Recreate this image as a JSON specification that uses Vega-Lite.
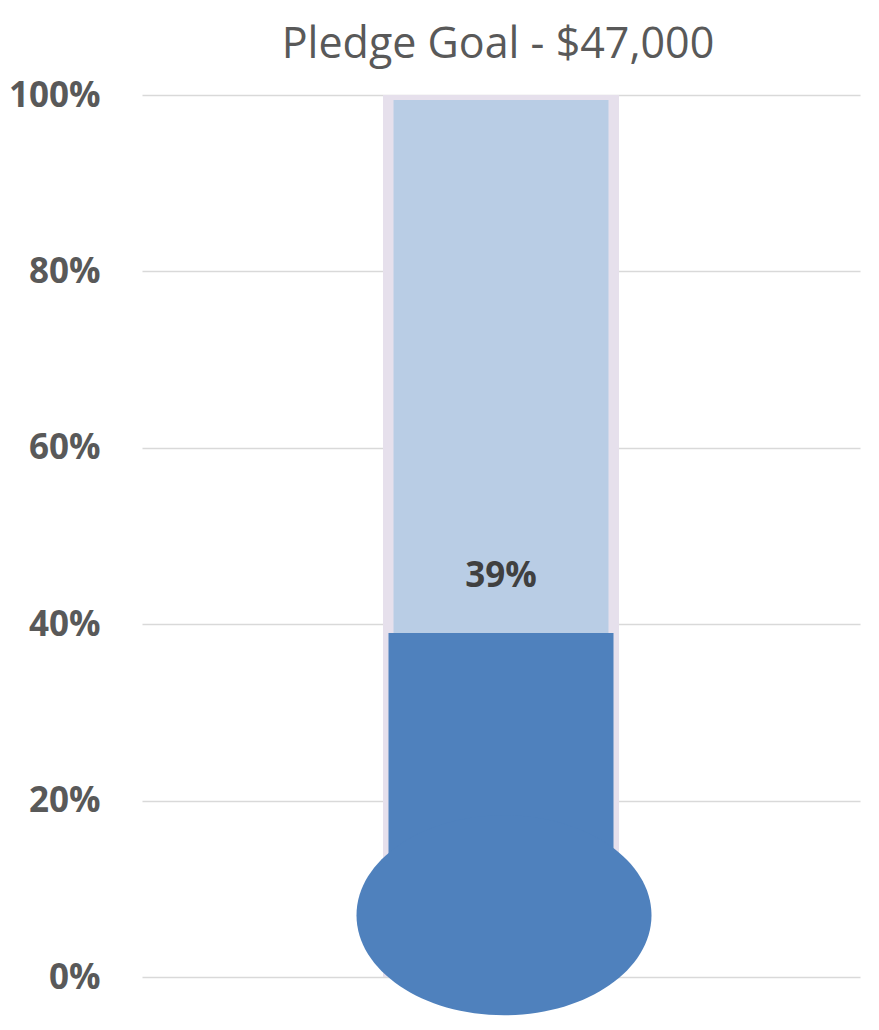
{
  "$schema": "https://vega.github.io/schema/vega-lite/v6.json",
  "autosize": {"type": "none"},
  "width": 718,
  "height": 882,
  "padding": {"left": 142, "top": 95, "right": 19, "bottom": 53},
  "title": {
    "text": "Pledge Goal - $47,000",
    "font": "Open Sans",
    "fontSize": 43,
    "fontWeight": "normal",
    "color": "#595959",
    "anchor": "middle",
    "offset": 11,
    "dx": -3
  },
  "data": {"values": [{"category": "Pledge", "goal": 100, "pledged": 39, "pledged_label": "39%", "bulb": 7, "base": 0}]},
  "encoding": {
    "x": {"field": "category", "type": "nominal", "axis": null, "scale": {"paddingInner": 0, "paddingOuter": 0}}
  },
  "layer": [
    {
      "mark": {"type": "bar", "width": 236, "color": "#E6E0EC"},
      "encoding": {
        "y": {"field": "goal", "type": "quantitative", "scale": {"domain": [0, 100]},
          "axis": {"values": [0, 20, 40, 60, 80, 100], "labelExpr": "datum.value + '%'", "title": null,
            "domain": false, "ticks": false, "labelPadding": 42, "labelFont": "Open Sans", "labelFontSize": 35,
            "labelFontWeight": "bold", "labelColor": "#595959", "grid": true, "gridColor": "#D9D9D9", "gridWidth": 1.5}},
        "y2": {"field": "base"}
      }
    },
    {
      "mark": {"type": "bar", "width": 215, "color": "#B9CDE5", "yOffset": 5},
      "encoding": {
        "y": {"field": "goal", "type": "quantitative"},
        "y2": {"field": "base"}
      }
    },
    {
      "mark": {"type": "bar", "width": 225, "color": "#4F81BD"},
      "encoding": {
        "y": {"field": "pledged", "type": "quantitative"},
        "y2": {"field": "base"}
      }
    },
    {
      "mark": {"type": "point", "filled": true, "color": "#4F81BD", "opacity": 1, "size": 87025, "xOffset": 3,
        "shape": "M-1,0C-1,-0.3745,-0.5523,-0.678,0,-0.678C0.5523,-0.678,1,-0.3745,1,0C1,0.3745,0.5523,0.678,0,0.678C-0.5523,0.678,-1,0.3745,-1,0Z"},
      "encoding": {
        "y": {"field": "bulb", "type": "quantitative"}
      }
    },
    {
      "mark": {"type": "text", "font": "Open Sans", "fontSize": 35, "fontWeight": "bold", "color": "#404040", "baseline": "alphabetic", "dy": -46},
      "encoding": {
        "y": {"field": "pledged", "type": "quantitative"},
        "text": {"field": "pledged_label", "type": "nominal"}
      }
    }
  ],
  "config": {"view": {"stroke": null}}
}
